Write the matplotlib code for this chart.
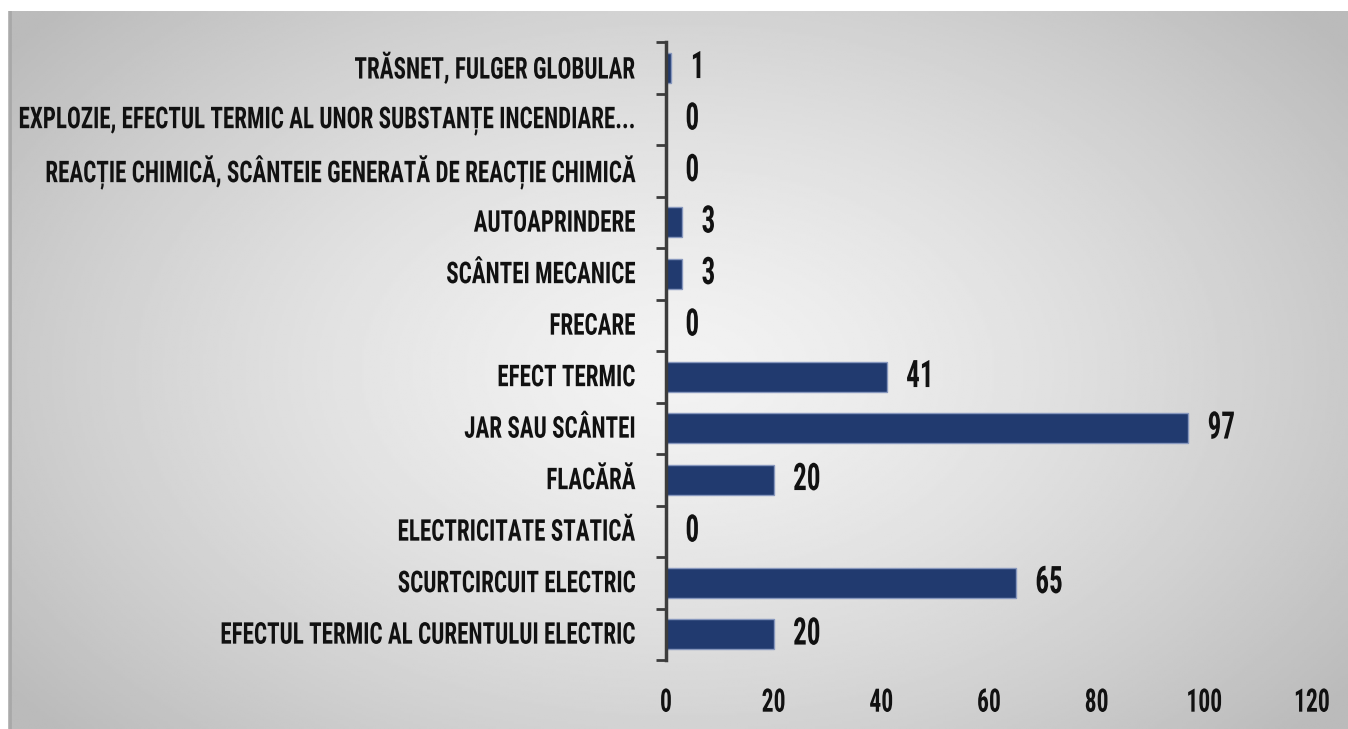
import numpy as np
import matplotlib
matplotlib.use("Agg")
import matplotlib.pyplot as plt
from matplotlib import font_manager
from matplotlib.patheffects import AbstractPathEffect
from matplotlib.transforms import Affine2D

# data, top to bottom as in the picture
causes = [
    "TRĂSNET, FULGER GLOBULAR",
    "EXPLOZIE, EFECTUL TERMIC AL UNOR SUBSTANȚE INCENDIARE...",
    "REACȚIE CHIMICĂ, SCÂNTEIE GENERATĂ DE REACȚIE CHIMICĂ",
    "AUTOAPRINDERE",
    "SCÂNTEI MECANICE",
    "FRECARE",
    "EFECT TERMIC",
    "JAR SAU SCÂNTEI",
    "FLACĂRĂ",
    "ELECTRICITATE STATICĂ",
    "SCURTCIRCUIT ELECTRIC",
    "EFECTUL TERMIC AL CURENTULUI ELECTRIC",
]
counts = [1, 0, 0, 3, 3, 0, 41, 97, 20, 0, 65, 20]
x_ticks = [0, 20, 40, 60, 80, 100, 120]

bar_col = "#213a6f"
edge_col = "#8797bd"
text_col = "#111111"
axis_col = "#3c3c3c"


class Tall(AbstractPathEffect):
    # stretch glyphs vertically around mid cap height, to mimic a narrow display font
    def __init__(self, k, dy=0):
        super().__init__()
        self.k = k
        self.dy = dy

    def draw_path(self, renderer, gc, tpath, affine, rgbFace=None):
        stretch = Affine2D().translate(0, -36).scale(1, self.k).translate(0, 36 + self.dy)
        renderer.draw_path(gc, tpath, stretch + affine, rgbFace)


# pick a condensed family if there is one
available = {f.name for f in font_manager.fontManager.ttflist}
fam = "DejaVu Sans"
for name in ["Roboto Condensed", "Liberation Sans Narrow", "DejaVu Sans Condensed", "Liberation Sans"]:
    if name in available:
        fam = name
        break
plt.rcParams["font.family"] = [fam, "DejaVu Sans"]
plt.rcParams["font.weight"] = "bold"

fig = plt.figure(figsize=(13.48, 7.29), dpi=100)
fig.patch.set_facecolor("white")

# gray radial gradient panel
bg = fig.add_axes([8 / 1348, 0, 1340 / 1348, 718 / 729])
bg.set_axis_off()
gx, gy = np.meshgrid(np.linspace(-1, 1, 600), np.linspace(-1, 1, 330))
r = np.sqrt((gx / 1.05) ** 2 + (gy / 1.25) ** 2)
shade = 0.95 - 0.17 * np.clip(r, 0, 1.2) ** 1.4
bg.imshow(shade, cmap="gray", vmin=0, vmax=1, aspect="auto", extent=[0, 1, 0, 1])
bg.axvline(0.0015, color="#a8a8a8", lw=2)

ax = fig.add_axes([666 / 1348, 1 - 660 / 729, 646 / 1348, 618 / 729])
ax.patch.set_alpha(0)
ypos = np.arange(len(causes))
ax.barh(ypos, counts, height=0.58, color=bar_col, edgecolor=edge_col, linewidth=1)
ax.set_ylim(len(causes) - 0.5, -0.5)
ax.set_xlim(0, 120)

for y, v in zip(ypos, counts):
    ax.annotate(str(v), (v, y), xytext=(14, 0), textcoords="offset points",
                va="center", ha="left", fontsize=19.5, color=text_col, fontweight="bold",
                path_effects=[Tall(1.4, 4)])

ax.set_yticks(ypos)
ax.set_yticklabels(causes, fontsize=16.6, color=text_col, fontweight="bold")
ax.set_yticks(np.arange(-0.5, len(causes), 1), minor=True)
ax.tick_params(axis="y", which="major", length=0, pad=22)
ax.tick_params(axis="y", which="minor", length=7, width=2, color=axis_col, direction="out")

ax.set_xticks(x_ticks)
ax.set_xticklabels([str(t) for t in x_ticks], fontsize=17, color=text_col, fontweight="bold")
ax.tick_params(axis="x", length=0, pad=22)

for lab in ax.get_yticklabels():
    lab.set_path_effects([Tall(1.3, 9)])
for lab in ax.get_xticklabels():
    lab.set_path_effects([Tall(1.37)])

for s in ["top", "right", "bottom"]:
    ax.spines[s].set_visible(False)
ax.spines["left"].set_color(axis_col)
ax.spines["left"].set_linewidth(2.5)

fig.savefig("out.png", dpi=100)
